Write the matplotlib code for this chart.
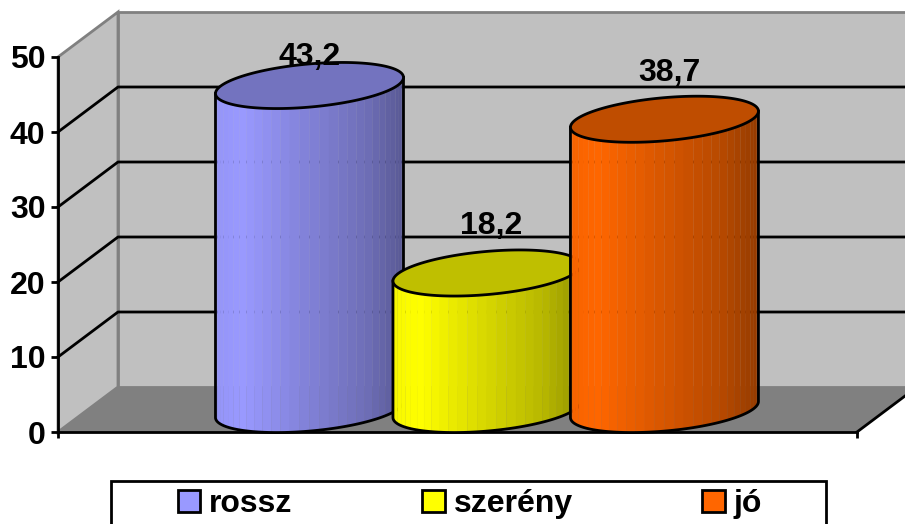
import numpy as np
import matplotlib
matplotlib.use('Agg')
import matplotlib.pyplot as plt
from matplotlib.patches import Polygon, Patch, Rectangle
from matplotlib.transforms import IdentityTransform

plt.rcParams['font.family'] = ['Liberation Sans', 'DejaVu Sans']
plt.rcParams['font.weight'] = 'bold'

categories = ['rossz', 'szerény', 'jó']
values = [43.2, 18.2, 38.7]
value_labels = ['43,2', '18,2', '38,7']
colors = ['#9999FF', '#FFFF00', '#FF6600']
y_ticks = [0, 10, 20, 30, 40, 50]

W, H = 905, 524
DEPTH = (60, 45)
LW = 2.0
FS = 23

fig = plt.figure(figsize=(W / 100, H / 100), dpi=100)
ax = fig.add_axes([58 / W, (H - 432) / H, 799 / W, 375 / H])
ax.set_xlim(-1.248, 3.254)
ax.set_ylim(0, 50)
ax.patch.set_visible(False)
for s in ['top', 'right']:
    ax.spines[s].set_visible(False)
for s in ['left', 'bottom']:
    ax.spines[s].set_linewidth(LW)
    ax.spines[s].set_zorder(2.5)
ax.set_yticks(y_ticks)
ax.set_xticks(ax.get_xlim())
ax.set_xticklabels([])
ax.tick_params(axis='y', length=5, width=LW, pad=4, labelsize=FS)
ax.tick_params(axis='x', length=4, width=LW)

disp = IdentityTransform()


def pt(x, v, d=0.0):
    # data position pushed back by d (0 front, 1 back wall), in display pixels
    p = ax.transData.transform((x, v))
    return p[0] + DEPTH[0] * d, p[1] + DEPTH[1] * d


def poly(points, z, **kw):
    ax.add_patch(Polygon(points, closed=True, transform=disp, clip_on=False, zorder=z, **kw))


x0, x1 = ax.get_xlim()
wall = '#C0C0C0'
edge = '#808080'
# walls and floor
poly([pt(x0, 0), pt(x0, 0, 1), pt(x0, 50, 1), pt(x0, 50)], 1, fc=wall, ec=edge, lw=LW)
poly([pt(x0, 0, 1), pt(x1, 0, 1), pt(x1, 50, 1), pt(x0, 50, 1)], 1, fc=wall, ec=edge, lw=LW)
poly([pt(x0, 0), pt(x1, 0), pt(x1, 0, 1), pt(x0, 0, 1)], 1.2, fc=edge, ec='none')
for v in y_ticks[1:-1]:
    a, b, c = pt(x0, v), pt(x0, v, 1), pt(x1, v, 1)
    ax.plot([a[0], b[0], c[0]], [a[1], b[1], c[1]], color='black', lw=LW,
            transform=disp, clip_on=False, zorder=1.5)
a, b = pt(x1, 0), pt(x1, 0, 1)
ax.plot([a[0], b[0]], [a[1], b[1]], color='black', lw=LW, transform=disp,
        clip_on=False, zorder=2.5)

RX, RY, TILT = 94, 21.6, 0.0856


def rim(cx, cy, t):
    return cx + RX * np.cos(t), cy + RY * np.sin(t) + TILT * RX * np.cos(t)


def shade(color, u):
    f = np.interp(u, [0, 0.14, 0.5, 0.8, 1], [0.97, 1.0, 0.84, 0.72, 0.58])
    return tuple(np.array(matplotlib.colors.to_rgb(color)) * f)


# cylinders, back to front in the order the chart stacks them
label_lift = [28, 47, 46]
label_shift = [0, 4, 5]
for i, (v, c) in enumerate(zip(values, colors)):
    z = 3 + i
    cx, yb = pt(i, 0, 0.5)
    _, yt = pt(i, v, 0.5)
    ts = np.linspace(np.pi, 2 * np.pi, 31)
    for t1, t2 in zip(ts[:-1], ts[1:]):
        tt = np.linspace(t1, t2, 5)
        xb, ybm = rim(cx, yb, tt)
        xt, ytm = rim(cx, yt, tt[::-1])
        u = (np.cos(t1) + np.cos(t2)) / 4 + 0.5
        pts = np.r_[np.c_[xb, ybm], np.c_[xt, ytm]]
        col = shade(c, u)
        poly(pts, z, fc=col, ec=col, lw=0.2)
    tt = np.linspace(np.pi, 2 * np.pi, 80)
    xb, ybm = rim(cx, yb, tt)
    xl, yl = rim(cx, yt, np.pi)
    xr, yr = rim(cx, yt, 2 * np.pi)
    ax.plot(np.r_[xl, xb, xr], np.r_[yl, ybm, yr], color='black', lw=LW,
            transform=disp, clip_on=False, zorder=z + 0.2)
    tt = np.linspace(0, 2 * np.pi, 160)
    xe, ye = rim(cx, yt, tt)
    top = tuple(np.array(matplotlib.colors.to_rgb(c)) * 0.75)
    poly(np.c_[xe, ye], z + 0.3, fc=top, ec='black', lw=LW)
    ax.text(cx + label_shift[i], yt + label_lift[i], value_labels[i], transform=disp,
            ha='center', va='center', fontsize=FS, zorder=10, clip_on=False)

# legend box runs past the bottom of the picture
fig.patches.append(Rectangle((111, -10), 715, H - 481 + 10, transform=disp,
                             fc='white', ec='black', lw=LW, figure=fig))
handles = [Patch(fc=c, ec='black', lw=LW) for c in colors]
fig.legend(handles, categories, ncol=3, frameon=False, loc='center',
           bbox_to_anchor=(470 / W, (H - 504) / H), fontsize=FS,
           handlelength=0.7, handleheight=0.7, handletextpad=0.28,
           columnspacing=4.06, borderpad=0, borderaxespad=0)

fig.savefig('out.png', dpi=100)
